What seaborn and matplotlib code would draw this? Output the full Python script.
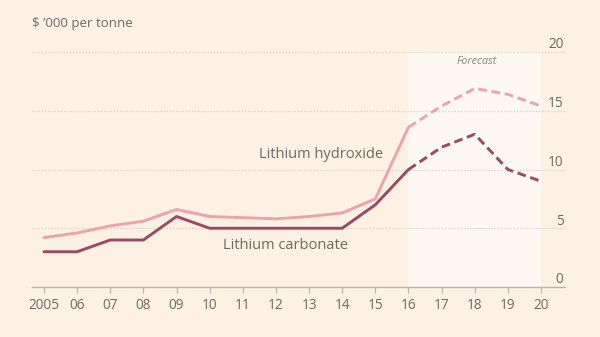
import matplotlib
matplotlib.use("Agg")
import matplotlib.pyplot as plt
import seaborn as sns
import pandas as pd

years = list(range(2005, 2021))
year_labels = ["2005", "06", "07", "08", "09", "10", "11", "12", "13", "14",
               "15", "16", "17", "18", "19", "20"]
hydroxide = [4.2, 4.6, 5.2, 5.6, 6.6, 6.0, 5.9, 5.8, 6.0, 6.3, 7.5, 13.6, 15.4, 16.9, 16.4, 15.4]
carbonate = [3.0, 3.0, 4.0, 4.0, 6.0, 5.0, 5.0, 5.0, 5.0, 5.0, 7.0, 10.0, 11.9, 13.0, 10.0, 9.0]
forecast_start = 2016
y_ticks = [0, 5, 10, 15, 20]

BG = "#FDF1E4"
SHADE = "#FEF8F2"
HYD_C = "#EDA2AE"
CAR_C = "#9B4A61"
TEXT_C = "#6E6964"
GRID_C = "#D9CFC6"

sns.set_theme(style="white")
plt.rcParams["font.family"] = ["Open Sans", "DejaVu Sans"]

rows = []
for name, vals in [("Lithium hydroxide", hydroxide), ("Lithium carbonate", carbonate)]:
    for y, v in zip(years, vals):
        if y <= forecast_start:
            rows.append({"year": y, "value": v, "series": name, "phase": "actual"})
        if y >= forecast_start:
            rows.append({"year": y, "value": v, "series": name, "phase": "forecast"})
df = pd.DataFrame(rows)

fig = plt.figure(figsize=(6.0, 3.37), dpi=100, facecolor=BG)
ax = fig.add_axes([32 / 600, 1 - 287 / 337, (565 - 32) / 600, (287 - 52) / 337])
ax.set_facecolor(BG)

ax.set_xlim(2005 - 12 / 33.13, 2020 + 24 / 33.13)
ax.set_ylim(0, 20)

ax.axvspan(forecast_start, years[-1], ymin=0, ymax=1, color=SHADE, zorder=0, lw=0)

for yt in y_ticks[1:]:
    ax.axhline(yt, color=GRID_C, lw=0.9, ls=(0, (1, 1.5)), zorder=1)

sns.lineplot(data=df, x="year", y="value", hue="series", style="phase",
             hue_order=["Lithium hydroxide", "Lithium carbonate"],
             palette=[HYD_C, CAR_C],
             dashes={"actual": "", "forecast": (3, 1.6)},
             estimator=None, lw=2.1, ax=ax, legend=False, zorder=3)

for spine in ["top", "right", "left"]:
    ax.spines[spine].set_visible(False)
ax.spines["bottom"].set_color("#BDB4AC")
ax.spines["bottom"].set_linewidth(1.0)

ax.set_xticks(years)
ax.set_xticklabels(year_labels)
ax.tick_params(axis="x", length=4, width=0.9, color="#BDB4AC", labelsize=9.8,
               labelcolor=TEXT_C, pad=4, bottom=True)
ax.set_yticks([])
ax.set_xlabel("")
ax.set_ylabel("")

for yt in y_ticks:
    ax.text(0.997, yt + 0.6, str(yt), transform=ax.get_yaxis_transform(),
            ha="right", va="center", fontsize=9.8, color=TEXT_C)

ax.text(2011.5, 11.3, "Lithium hydroxide", fontsize=10.5, color=TEXT_C,
        ha="left", va="center")
ax.text(2010.4, 3.5, "Lithium carbonate", fontsize=10.5, color=TEXT_C,
        ha="left", va="center")
ax.text(2018.05, 19.2, "Forecast", fontsize=7.8, color="#8A8580", style="italic",
        ha="center", va="center")

fig.text(32 / 600, 1 - 23 / 337, "$ \u2019000 per tonne", fontsize=9.5,
         color=TEXT_C, ha="left", va="center")

fig.savefig("out.png", dpi=100, facecolor=BG)
